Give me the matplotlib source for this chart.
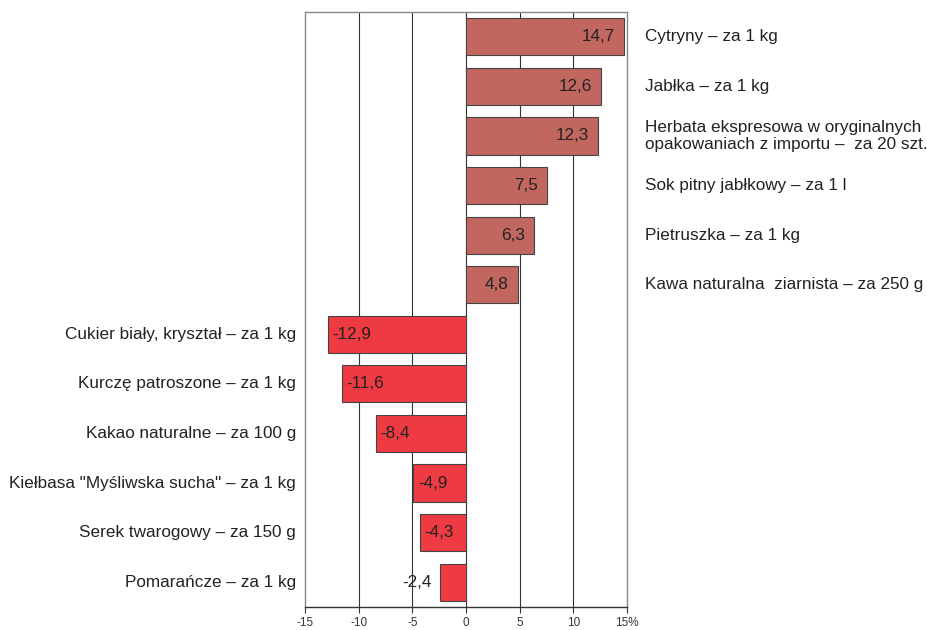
import matplotlib.pyplot as plt
from matplotlib.transforms import blended_transform_factory

plt.rcParams['font.family'] = ['Liberation Sans', 'DejaVu Sans']

# produkty i zmiany cen (%)
produkty = ['Cytryny – za 1 kg', 'Jabłka – za 1 kg',
            'Herbata ekspresowa w oryginalnych\nopakowaniach z importu –  za 20 szt.',
            'Sok pitny jabłkowy – za 1 l', 'Pietruszka – za 1 kg',
            'Kawa naturalna  ziarnista – za 250 g',
            'Cukier biały, kryształ – za 1 kg', 'Kurczę patroszone – za 1 kg',
            'Kakao naturalne – za 100 g', 'Kiełbasa "Myśliwska sucha" – za 1 kg',
            'Serek twarogowy – za 150 g', 'Pomarańcze – za 1 kg']
zmiany = [14.7, 12.6, 12.3, 7.5, 6.3, 4.8, -12.9, -11.6, -8.4, -4.9, -4.3, -2.4]
xticks = [-15, -10, -5, 0, 5, 10, 15]
xlabels = ['-15', '-10', '-5', '0', '5', '10', '15%']

fig = plt.figure(figsize=(9.28, 6.3), dpi=100)
ax = fig.add_axes([0.3287, 0.0365, 0.347, 0.9445])

pos = list(range(len(zmiany)))
kolory = ['#C1675F' if v > 0 else '#EE3A42' for v in zmiany]
ax.barh(pos, zmiany, height=0.75, color=kolory, edgecolor='#444444', linewidth=0.8, zorder=3)

ax.set_xlim(-15, 15)
ax.set_ylim(11.5, -0.5)
ax.set_xticks(xticks)
ax.set_xticklabels(xlabels, fontsize=8.5, color='#333333')
ax.set_yticks([])
ax.tick_params(axis='x', length=4, width=0.8, color='#333333', pad=3.5)
for x in xticks[1:-1]:
    ax.axvline(x, color='#333333', linewidth=0.8, zorder=1)
for s in ax.spines.values():
    s.set_color('#888888')
    s.set_linewidth(1.0)
ax.spines['bottom'].set_color('#333333')

fs = 12.3
tr = blended_transform_factory(ax.transAxes, ax.transData)
for i, (p, v) in enumerate(zip(produkty, zmiany)):
    txt = f'{v:.1f}'.replace('.', ',')
    if v > 0:
        ax.text(1.056, i, p, transform=tr, ha='left', va='center', fontsize=fs, color='#222222',
                linespacing=1.15)
        ax.annotate(txt, (v, i), xytext=(-6.5, 0), textcoords='offset points',
                    ha='right', va='center', fontsize=fs, color='#222222', zorder=4)
    else:
        ax.text(-0.028, i, p, transform=tr, ha='right', va='center', fontsize=fs, color='#222222')
        if v < -3:
            ax.annotate(txt, (v, i), xytext=(3.5, 0), textcoords='offset points',
                        ha='left', va='center', fontsize=fs, color='#222222', zorder=4)
        else:
            ax.annotate(txt, (v, i), xytext=(-6, 0), textcoords='offset points',
                        ha='right', va='center', fontsize=fs, color='#222222', zorder=4)

fig.savefig('out.png', dpi=100)
